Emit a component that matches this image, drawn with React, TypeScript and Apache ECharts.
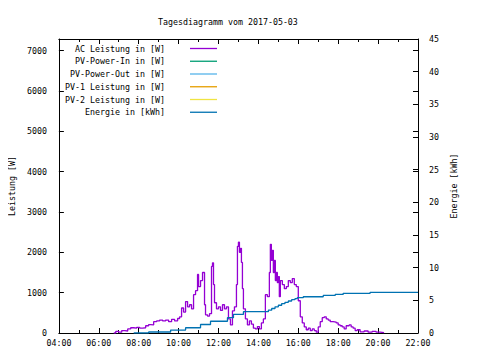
import React, { useEffect, useRef } from "react";
import * as echarts from "echarts";

const TITLE = "Tagesdiagramm vom 2017-05-03";
const LEFT_NAME = "Leistung [W]";
const RIGHT_NAME = "Energie [kWh]";

const seriesNames = [
  "AC Leistung in [W]",
  "PV-Power-In in [W]",
  "PV-Power-Out in [W]",
  "PV-1 Leistung in [W]",
  "PV-2 Leistung in [W]",
  "Energie in [kWh]",
];
const seriesColors = ["#9400d3", "#009e73", "#56b4e9", "#e69f00", "#f0e442", "#0072b2"];

const acTimes = [
  "06:45", "06:51", "07:00", "07:09", "07:18", "07:27", "07:36", "07:45", "07:54", "08:03",
  "08:12", "08:21", "08:30", "08:36", "08:45", "08:54", "09:03", "09:12", "09:21", "09:30",
  "09:39", "09:48", "09:57", "10:03", "10:09", "10:15", "10:21", "10:27", "10:33", "10:39",
  "10:45", "10:51", "10:57", "11:00", "11:06", "11:12", "11:18", "11:21", "11:27", "11:33",
  "11:39", "11:42", "11:45", "11:48", "11:54", "12:00", "12:06", "12:12", "12:18", "12:24",
  "12:30", "12:36", "12:42", "12:48", "12:54", "12:57", "13:00", "13:03", "13:06", "13:09",
  "13:12", "13:15", "13:21", "13:27", "13:33", "13:39", "13:45", "13:51", "13:57", "14:03",
  "14:09", "14:15", "14:21", "14:27", "14:33", "14:36", "14:39", "14:42", "14:45", "14:48",
  "14:51", "14:54", "14:57", "15:00", "15:03", "15:06", "15:12", "15:18", "15:24", "15:30",
  "15:36", "15:42", "15:48", "15:54", "16:00", "16:06", "16:12", "16:18", "16:24", "16:30",
  "16:36", "16:42", "16:48", "16:54", "17:00", "17:06", "17:12", "17:18", "17:24", "17:30",
  "17:36", "17:45", "17:54", "18:00", "18:06", "18:12", "18:18", "18:24", "18:33", "18:39",
  "18:45", "18:51", "18:57", "19:06", "19:18", "19:30", "19:42", "19:54", "20:06", "20:18",
];
const acWatts = [
  0, 40, 20, 60, 50, 100, 130, 120, 140, 120,
  130, 180, 210, 200, 280, 300, 320, 300, 320, 280,
  340, 300, 360, 400, 620, 520, 780, 650, 700, 600,
  950, 1050, 1450, 1150, 1300, 1500, 700, 450, 420, 480,
  1650, 1740, 1200, 750, 600, 650, 560, 700, 600, 650,
  350, 200, 550, 650, 1200, 2150, 2250, 2000, 2100, 1750,
  1100, 600, 350, 200, 300, 220, 120, 100, 160, 100,
  250, 350, 950, 900, 1500, 2200, 1800, 2050, 1500, 1800,
  1300, 1500, 1250, 1400, 900, 1300, 1200, 1100, 1150, 1300,
  1250, 1350, 1200, 1150, 800, 400, 250, 150, 80, 120,
  60, 100, 60, 20, 150, 280, 380, 400, 350, 320,
  280, 270, 250, 200, 180, 150, 100, 180, 200, 150,
  120, 60, 80, 30, 50, 20, 40, 20, 10, 0,
];

const energyTimes = [
  "07:45", "08:30", "09:36", "10:21", "11:06", "11:36", "12:27", "12:45", "13:15", "14:21",
  "14:30", "14:40", "14:50", "15:00", "15:10", "15:20", "15:30", "15:40", "15:50", "15:57",
  "16:15", "17:15", "17:51", "18:15", "19:36", "22:00",
];
const energyKWh = [
  0, 0.15, 0.45, 0.8, 1.3, 1.8, 2.35, 2.85, 3.27, 3.27,
  3.5, 3.75, 4.0, 4.25, 4.5, 4.7, 4.9, 5.1, 5.25, 5.4,
  5.55, 5.75, 5.9, 6.07, 6.22, 6.22,
];

const xTicks = { min: 4, max: 22, interval: 2 };
const leftAxis = { min: 0, max: 7290, interval: 1000 };
const rightAxis = { min: 0, max: 45, interval: 5 };

const FONT = "DejaVu Sans Mono";
const FS = 8.3;

const toHours = (t: string) => {
  const [h, m] = t.split(":").map(Number);
  return h + m / 60;
};

export default function App() {
  const ref = useRef<HTMLDivElement>(null);
  useEffect(() => {
    if (!ref.current) return;
    const chart = echarts.init(ref.current, null, { renderer: "svg" });
    const acData = acTimes.map((t, i) => [toHours(t), acWatts[i]]);
    const enData = energyTimes.map((t, i) => [toHours(t), energyKWh[i]]);
    const dataBySeries: number[][][] = [acData, [], [], [], [], enData];

    const legendGraphics: any[] = [];
    seriesNames.forEach((name, i) => {
      const y = 48.5 + i * 12.75;
      legendGraphics.push({
        type: "text",
        x: 165,
        y,
        style: {
          text: name,
          fill: "#000",
          font: `${FS}px "${FONT}"`,
          align: "right",
          verticalAlign: "middle",
        },
      });
      legendGraphics.push({
        type: "line",
        shape: { x1: 190, y1: y, x2: 217, y2: y },
        style: { stroke: seriesColors[i], lineWidth: 1.3 },
      });
    });

    const axisCommon = {
      axisLine: { show: true, onZero: false, lineStyle: { color: "#000", width: 1 } },
      splitLine: { show: false },
    };

    chart.setOption({
      animation: false,
      backgroundColor: "#fff",
      title: {
        text: TITLE,
        left: 153,
        top: 13,
        textStyle: { fontFamily: FONT, fontSize: FS, fontWeight: "normal", color: "#000" },
      },
      grid: { left: 58, right: 62, top: 39, bottom: 27, containLabel: false },
      xAxis: [
        {
          type: "value",
          position: "bottom",
          ...xTicks,
          ...axisCommon,
          axisTick: { show: true, inside: true, length: 5, lineStyle: { color: "#000" } },
          minorTick: { show: true, splitNumber: 2, length: 3, lineStyle: { color: "#000" } },
          axisLabel: {
            margin: 6,
            fontFamily: FONT,
            fontSize: FS,
            color: "#000",
            formatter: (v: number) => String(v).padStart(2, "0") + ":00",
          },
        },
        {
          type: "value",
          position: "top",
          ...xTicks,
          ...axisCommon,
          axisTick: { show: true, inside: true, length: 5, lineStyle: { color: "#000" } },
          minorTick: { show: true, splitNumber: 2, length: 3, lineStyle: { color: "#000" } },
          axisLabel: { show: false },
        },
      ],
      yAxis: [
        {
          type: "value",
          position: "left",
          ...leftAxis,
          ...axisCommon,
          name: LEFT_NAME,
          nameLocation: "middle",
          nameRotate: 90,
          nameGap: 31,
          nameTextStyle: { fontFamily: FONT, fontSize: FS, color: "#000" },
          axisTick: { show: true, inside: true, length: 5, lineStyle: { color: "#000" } },
          axisLabel: {
            margin: 12,
            fontFamily: FONT,
            fontSize: FS,
            color: "#000",
            formatter: (v: number) => (v % 1000 === 0 ? String(v) : ""),
          },
        },
        {
          type: "value",
          position: "right",
          ...rightAxis,
          ...axisCommon,
          name: RIGHT_NAME,
          nameLocation: "middle",
          nameRotate: 90,
          nameGap: 29,
          nameTextStyle: { fontFamily: FONT, fontSize: FS, color: "#000" },
          axisTick: { show: true, inside: true, length: 5, lineStyle: { color: "#000" } },
          axisLabel: { margin: 11, fontFamily: FONT, fontSize: FS, color: "#000" },
        },
        {
          type: "value",
          position: "right",
          ...leftAxis,
          ...axisCommon,
          axisLine: { show: false, onZero: false },
          axisTick: { show: true, inside: true, length: 5, lineStyle: { color: "#000" } },
          axisLabel: { show: false },
        },
      ],
      graphic: legendGraphics,
      series: seriesNames.map((name, i) => ({
        name,
        type: "line",
        xAxisIndex: 0,
        yAxisIndex: i === 5 ? 1 : 0,
        data: dataBySeries[i],
        step: "end",
        showSymbol: false,
        symbol: "none",
        lineStyle: { color: seriesColors[i], width: 1.3 },
        itemStyle: { color: seriesColors[i] },
        z: i === 5 ? 3 : 2,
      })),
    });
    return () => chart.dispose();
  }, []);
  return <div ref={ref} style={{ width: 480, height: 360, margin: -8 }} />;
}
